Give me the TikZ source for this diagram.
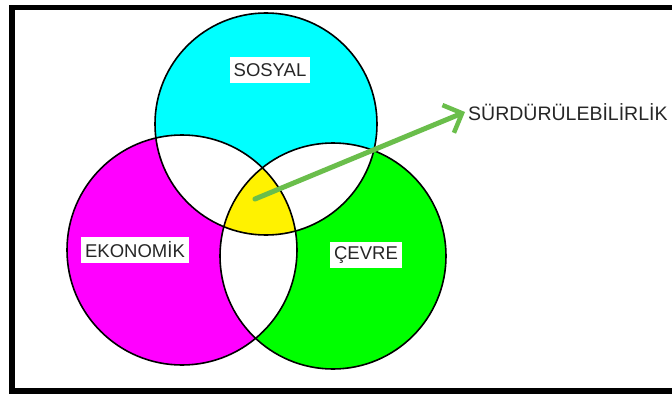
\documentclass[tikz,border=0pt]{standalone}
\usepackage{fontspec}
\setmainfont{Liberation Sans}
\usetikzlibrary{arrows.meta}
\definecolor{okyesil}{RGB}{106,190,75}
\definecolor{camgobegi}{RGB}{0,255,255}
\definecolor{eflatun}{RGB}{255,0,255}
\definecolor{acikyesil}{RGB}{0,255,0}
\tikzstyle{etiket}=[rectangle, fill=white, text=black!85, inner xsep=4pt, minimum height=26pt, font=\fontsize{18.5}{20}\selectfont]
\def\sosyal{(266,124) circle [radius=111pt]}
\def\ekonomik{(182,250) circle [radius=115pt]}
\def\cevre{(333,256) circle [radius=113pt]}

\begin{document}
\begin{tikzpicture}[x=1pt, y=-1pt,        cember/.style={draw=black, line width=1.6pt},        ok/.style={draw=okyesil, line width=5pt, line cap=round, -{Straight Barb[length=15pt, width=30pt, line width=4.5pt]}}    ]
        \clip (0,0) rectangle (672,396);
        \fill[white] (0,0) rectangle (672,396);
        \draw[line width=5.5pt] (12,7.5) rectangle (690,391);

        \fill[camgobegi] \sosyal;
        \fill[eflatun] \ekonomik;
        \fill[acikyesil] \cevre;
        \begin{scope}
            \clip \sosyal;
            \fill[white] \ekonomik;
            \fill[white] \cevre;
        \end{scope}
        \begin{scope}
            \clip \ekonomik;
            \fill[white] \cevre;
        \end{scope}
        \begin{scope}
            \clip \sosyal;
            \clip \ekonomik;
            \fill[yellow] \cevre;
        \end{scope}
        \draw[cember] \sosyal;
        \draw[cember] \ekonomik;
        \draw[cember] \cevre;

        \node (sosyal) [etiket] at (270,70) {SOSYAL};
        \node (ekonomik) [etiket] at (135,250) {EKONOMİK};
        \node (cevre) [etiket] at (366,255) {ÇEVRE};
        \node (surdur) [etiket, anchor=west, inner xsep=3pt, font=\fontsize{19.5}{20}\selectfont] at (465,112) {SÜRDÜRÜLEBİLİRLİK};
        \coordinate (merkez) at (255,199);

        \draw [ok] (merkez) -- (surdur.west);
    \end{tikzpicture}
\end{document}
